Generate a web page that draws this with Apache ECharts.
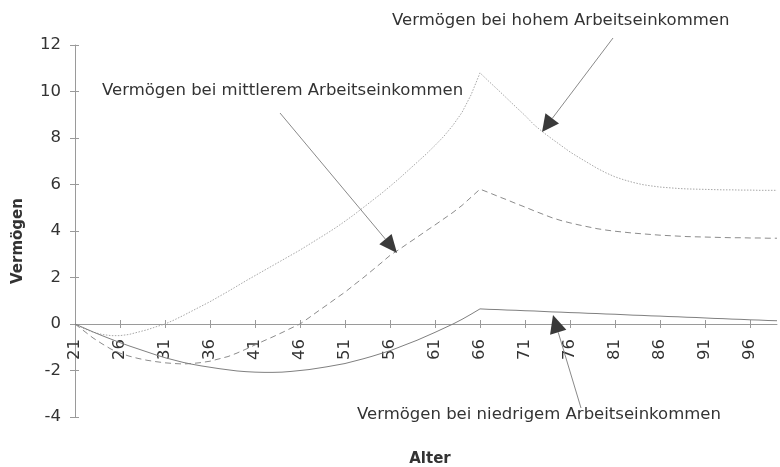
<!DOCTYPE html>
<html><head><meta charset="utf-8">
<script src="https://cdn.jsdelivr.net/npm/echarts/dist/echarts.min.js"></script>
<style>html,body{margin:0;padding:0;background:#fff}#c{width:780px;height:467px}</style>
</head><body><div id="c"></div>
<script>
// Alter (age) categories
const ages = ['21','22','23','24','25','26','27','28','29','30','31','32','33','34','35','36','37','38','39','40',
  '41','42','43','44','45','46','47','48','49','50','51','52','53','54','55','56','57','58','59','60',
  '61','62','63','64','65','66','67','68','69','70','71','72','73','74','75','76','77','78','79','80',
  '81','82','83','84','85','86','87','88','89','90','91','92','93','94','95','96','97','98','99'];

// Vermögen bei hohem Arbeitseinkommen
const highIncome = [0,-0.2,-0.35,-0.45,-0.5,-0.5,-0.45,-0.35,-0.25,-0.12,
  0,0.17,0.36,0.56,0.76,0.96,1.18,1.4,1.63,1.86,
  2.08,2.3,2.52,2.74,2.96,3.18,3.42,3.66,3.9,4.15,
  4.42,4.7,5.0,5.3,5.6,5.92,6.25,6.6,6.95,7.3,
  7.68,8.08,8.55,9.1,9.85,10.8,10.43,10.07,9.7,9.33,
  8.97,8.57,8.25,7.96,7.68,7.4,7.16,6.93,6.7,6.5,
  6.33,6.2,6.09,6.0,5.94,5.89,5.86,5.83,5.81,5.8,
  5.79,5.78,5.77,5.77,5.76,5.76,5.75,5.75,5.75];

// Vermögen bei mittlerem Arbeitseinkommen
const midIncome = [0,-0.3,-0.6,-0.85,-1.08,-1.25,-1.38,-1.48,-1.56,-1.62,
  -1.67,-1.7,-1.72,-1.7,-1.66,-1.6,-1.5,-1.4,-1.25,-1.08,
  -0.9,-0.72,-0.55,-0.37,-0.18,0,0.27,0.55,0.82,1.1,
  1.37,1.68,1.98,2.3,2.62,2.95,3.2,3.47,3.73,4.0,
  4.26,4.53,4.8,5.1,5.45,5.8,5.65,5.49,5.34,5.18,
  5.03,4.87,4.72,4.57,4.45,4.35,4.26,4.18,4.1,4.04,
  3.99,3.95,3.91,3.88,3.85,3.82,3.8,3.78,3.76,3.75,
  3.74,3.73,3.72,3.71,3.71,3.7,3.7,3.69,3.69];

// Vermögen bei niedrigem Arbeitseinkommen
const lowIncome = [0,-0.17,-0.34,-0.5,-0.65,-0.8,-0.94,-1.07,-1.2,-1.33,
  -1.45,-1.55,-1.65,-1.73,-1.8,-1.86,-1.92,-1.97,-2.02,-2.05,
  -2.07,-2.08,-2.08,-2.07,-2.04,-2.0,-1.96,-1.9,-1.84,-1.77,
  -1.7,-1.6,-1.5,-1.39,-1.27,-1.15,-1.0,-0.85,-0.7,-0.53,
  -0.36,-0.18,0,0.2,0.42,0.65,0.63,0.62,0.6,0.59,
  0.57,0.56,0.54,0.52,0.51,0.49,0.48,0.46,0.45,0.43,
  0.42,0.4,0.38,0.37,0.35,0.34,0.32,0.31,0.29,0.28,
  0.26,0.24,0.23,0.21,0.2,0.18,0.17,0.15,0.14];

const yMin = -4, yMax = 12, yStep = 2;

const FONT = '"DejaVu Sans", sans-serif';
const TXT = '#333';
const AXC = '#9a9a9a';

// plot geometry (layout only)
const G_LEFT = 75, G_RIGHT = 3, G_TOP = 45, G_BOTTOM = 50, H = 467;
const plotH = H - G_TOP - G_BOTTOM;
const zeroH = plotH * (yMax - 0) / (yMax - yMin); // height from top to the zero line

function arrow(tail, tip, len, wid) {
  const dx = tip[0]-tail[0], dy = tip[1]-tail[1];
  const d = Math.sqrt(dx*dx+dy*dy), ux = dx/d, uy = dy/d;
  const bx = tip[0]-ux*len, by = tip[1]-uy*len;
  const nx = -uy, ny = ux;
  return [
    {type:'line', shape:{x1:tail[0], y1:tail[1], x2:bx, y2:by}, style:{stroke:'#8a8a8a', lineWidth:1}, z:10},
    {type:'polygon', shape:{points:[[tip[0],tip[1]],[bx+nx*wid/2, by+ny*wid/2],[bx-nx*wid/2, by-ny*wid/2]]}, style:{fill:'#3a3a3a'}, z:10}
  ];
}
function label(text, x, y) {
  return {type:'text', x:x, y:y, z:10, style:{text:text, fill:TXT, fontSize:16.5, fontFamily:FONT, align:'left', verticalAlign:'middle'}};
}

const hidden = {show:false};
const chart = echarts.init(document.getElementById('c'), null, {renderer:'canvas'});
chart.setOption({
  animation:false,
  backgroundColor:'#fff',
  grid:[
    {left:G_LEFT, right:G_RIGHT, top:G_TOP, bottom:G_BOTTOM},          // main plot
    {left:G_LEFT, right:G_RIGHT, top:G_TOP, height:zeroH},             // x labels at zero line (outer ticks)
    {left:G_LEFT, right:G_RIGHT, top:G_TOP, height:zeroH},             // x inner ticks
    {left:G_LEFT, right:G_RIGHT, top:G_TOP, bottom:G_BOTTOM}           // y inner ticks
  ],
  xAxis:[
    {gridIndex:0, type:'category', data:ages, boundaryGap:false,
     axisLine:{onZero:true, lineStyle:{color:AXC, width:1}},
     axisTick:hidden, axisLabel:hidden, splitLine:hidden},
    {gridIndex:1, type:'category', data:ages, boundaryGap:false,
     axisLine:hidden,
     axisTick:{show:true, interval:4, length:4, lineStyle:{color:AXC}},
     axisLabel:{interval:4, rotate:90, margin:15, color:TXT, fontSize:16.5, fontFamily:FONT},
     splitLine:hidden},
    {gridIndex:2, type:'category', data:ages, boundaryGap:false,
     axisLine:hidden,
     axisTick:{show:true, inside:true, interval:4, length:4, lineStyle:{color:AXC}},
     axisLabel:hidden, splitLine:hidden},
    {gridIndex:3, type:'category', data:ages, boundaryGap:false, show:false}
  ],
  yAxis:[
    {gridIndex:0, type:'value', min:yMin, max:yMax, interval:yStep,
     axisLine:{show:true, onZero:false, lineStyle:{color:AXC, width:1}},
     axisTick:{show:true, length:5, lineStyle:{color:AXC}},
     axisLabel:{margin:14, color:TXT, fontSize:16.5, fontFamily:FONT},
     splitLine:hidden},
    {gridIndex:1, type:'value', min:0, max:yMax, show:false},
    {gridIndex:2, type:'value', min:0, max:yMax, show:false},
    {gridIndex:3, type:'value', min:yMin, max:yMax, interval:yStep,
     axisLine:hidden, axisLabel:hidden, splitLine:hidden,
     axisTick:{show:true, inside:true, length:4, lineStyle:{color:AXC}}}
  ],
  series:[
    {name:'Vermögen bei hohem Arbeitseinkommen', type:'line', xAxisIndex:0, yAxisIndex:0, data:highIncome, symbol:'none',
     lineStyle:{color:'#a8a8a8', width:1, type:[1.5,1.5]}},
    {name:'Vermögen bei mittlerem Arbeitseinkommen', type:'line', xAxisIndex:0, yAxisIndex:0, data:midIncome, symbol:'none',
     lineStyle:{color:'#8c8c8c', width:1, type:[6,4]}},
    {name:'Vermögen bei niedrigem Arbeitseinkommen', type:'line', xAxisIndex:0, yAxisIndex:0, data:lowIncome, symbol:'none',
     lineStyle:{color:'#808080', width:1, type:'solid'}}
  ],
  graphic:[].concat(
    [label('Vermögen bei hohem Arbeitseinkommen', 392, 21),
     label('Vermögen bei mittlerem Arbeitseinkommen', 102, 91),
     label('Vermögen bei niedrigem Arbeitseinkommen', 357, 415),
     {type:'text', x:430, y:459, z:10, style:{text:'Alter', fill:TXT, fontSize:15, fontWeight:'bold', fontFamily:FONT, align:'center', verticalAlign:'middle'}},
     {type:'text', x:18, y:241, rotation:Math.PI/2, z:10, style:{text:'Vermögen', fill:TXT, fontSize:15, fontWeight:'bold', fontFamily:FONT, align:'center', verticalAlign:'middle'}}
    ],
    arrow([613,38],[542,132],17,17),
    arrow([280,113],[397,253],18,16),
    arrow([581,408],[553,315],18,17)
  )
});
</script></body></html>
